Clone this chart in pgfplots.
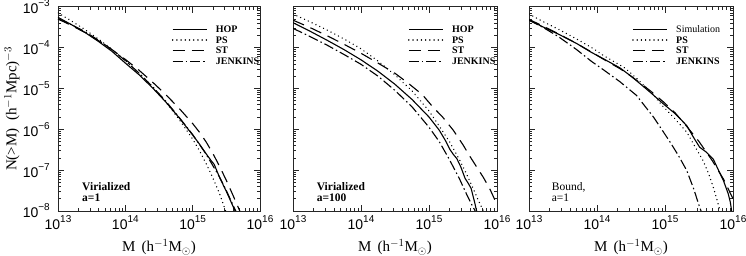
\documentclass[border=0pt]{standalone}
\usepackage{fontspec}
\setmainfont{Liberation Serif}
\newfontfamily\tickfont{Liberation Sans}
\usepackage{pgfplots}
\pgfplotsset{compat=1.18}

% tick label: 10 with a raised exponent, set in the sans font
\newcommand{\dec}[1]{{\tickfont\fontsize{14}{14}\selectfont 10\raisebox{7pt}{\fontsize{10}{10}\selectfont #1}}}
% legend entry text
\newcommand{\legtext}[1]{{\fontsize{10}{10}\selectfont #1}}

\pgfplotsset{
  legend image code/.code={\draw[#1] (0pt,0pt) -- (34pt,0pt);},
  hop/.style={black, line width=1.1pt, solid},
  ps/.style={black, line width=1.5pt, line cap=round, dash pattern=on 0.01pt off 4.2pt},
  st/.style={black, line width=1.1pt, dash pattern=on 12pt off 7pt},
  jk/.style={black, line width=1.1pt, dash pattern=on 10pt off 3pt on 1.5pt off 3pt},
  massfn/.style={
    scale only axis, height=204.3pt,
    xmin=13, xmax=16, ymin=-8, ymax=-3,
    xtick={13,14,15,16}, ytick={-8,-7,-6,-5,-4,-3},
    minor xtick={13.301,13.477,13.602,13.699,13.778,13.845,13.903,13.954,
                 14.301,14.477,14.602,14.699,14.778,14.845,14.903,14.954,
                 15.301,15.477,15.602,15.699,15.778,15.845,15.903,15.954},
    minor ytick={-7.699,-7.523,-7.398,-7.301,-7.222,-7.155,-7.097,-7.046,
                 -6.699,-6.523,-6.398,-6.301,-6.222,-6.155,-6.097,-6.046,
                 -5.699,-5.523,-5.398,-5.301,-5.222,-5.155,-5.097,-5.046,
                 -4.699,-4.523,-4.398,-4.301,-4.222,-4.155,-4.097,-4.046,
                 -3.699,-3.523,-3.398,-3.301,-3.222,-3.155,-3.097,-3.046},
    tick align=inside,
    major tick length=6pt, minor tick length=3pt,
    every tick/.style={black!85, line width=0.6pt},
    axis line style={black!85, line width=0.8pt},
    xticklabels={\dec{13},\dec{14},\dec{15},\dec{16}},
    xticklabel style={anchor=base, inner sep=0pt, yshift=-19pt},
    xlabel={M\, (h$^{-1}$M$_\odot$)},
    xlabel style={font=\fontsize{15}{18}\selectfont, at={(axis description cs:0.5,0)}, anchor=base, yshift=-41pt},
    legend cell align=left,
    legend style={draw=none, fill=none, at={(0.563,0.911)}, anchor=north west,
      inner sep=0pt, row sep=1.6pt,
      nodes={inner sep=0.5pt, text height=7pt, text depth=1pt},
      /tikz/every odd column/.append style={column sep=8pt}},
  }
}

\begin{document}
\begin{tikzpicture}
\path[use as bounding box] (0,0) rectangle (746pt,256pt);

% ---------------- Virialized, a=1 ----------------
\begin{axis}[massfn, width=202pt, at={(58pt,45pt)}, anchor=south west,
  yticklabels={\dec{−8},\dec{−7},\dec{−6},\dec{−5},\dec{−4},\dec{−3}},
  yticklabel style={anchor=east, inner sep=0pt, xshift=-8pt},
  ylabel={N(>M)\ \ (h$^{-1}$Mpc)$^{-3}$},
  ylabel style={font=\fontsize{15}{18}\selectfont, at={(axis description cs:-0.228,0.5)}, anchor=center}]
\addplot[hop] coordinates {(13.00,-3.26)(13.20,-3.44)(13.40,-3.63)(13.60,-3.85)(13.80,-4.09)(14.00,-4.38)(14.20,-4.66)(14.40,-4.98)(14.60,-5.33)(14.80,-5.72)(15.00,-6.14)(15.10,-6.36)(15.20,-6.60)(15.28,-6.78)(15.32,-6.86)(15.40,-7.18)(15.50,-7.52)(15.56,-7.74)(15.63,-8.00)};
\addlegendentry{\legtext{\textbf{HOP}}}
\addplot[ps] coordinates {(13.00,-3.15)(13.20,-3.35)(13.40,-3.56)(13.60,-3.79)(13.80,-4.04)(14.00,-4.32)(14.20,-4.62)(14.40,-4.95)(14.60,-5.33)(14.80,-5.76)(15.00,-6.24)(15.10,-6.52)(15.20,-6.84)(15.30,-7.19)(15.40,-7.58)(15.49,-8.00)};
\addlegendentry{\legtext{\textbf{PS}}}
\addplot[st] coordinates {(13.00,-3.30)(13.20,-3.46)(13.40,-3.63)(13.60,-3.83)(13.80,-4.05)(14.00,-4.29)(14.20,-4.55)(14.40,-4.84)(14.60,-5.15)(14.80,-5.49)(15.00,-5.86)(15.10,-6.07)(15.20,-6.31)(15.30,-6.59)(15.40,-6.91)(15.50,-7.25)(15.60,-7.62)(15.70,-8.00)};
\addlegendentry{\legtext{\textbf{ST}}}
\addplot[jk] coordinates {(13.00,-3.30)(13.20,-3.44)(13.40,-3.61)(13.60,-3.82)(13.80,-4.05)(14.00,-4.32)(14.20,-4.62)(14.40,-4.95)(14.60,-5.31)(14.80,-5.71)(15.00,-6.13)(15.20,-6.61)(15.40,-7.17)(15.50,-7.50)(15.60,-7.86)(15.64,-8.00)};
\addlegendentry{\legtext{\textbf{JENKINS}}}
\node[anchor=west, inner sep=0pt, font=\fontsize{11.5}{13}\selectfont\bfseries] at (axis description cs:0.119,0.117) {Virialized};
\node[anchor=west, inner sep=0pt, font=\fontsize{11.5}{13}\selectfont\bfseries] at (axis description cs:0.119,0.063) {a=1};
\end{axis}

% ---------------- Virialized, a=100 ----------------
\begin{axis}[massfn, width=204pt, at={(293pt,45pt)}, anchor=south west, yticklabels={}]
\addplot[hop] coordinates {(13.00,-3.39)(13.25,-3.60)(13.50,-3.82)(13.75,-4.05)(14.00,-4.30)(14.25,-4.58)(14.50,-4.90)(14.75,-5.27)(15.00,-5.70)(15.15,-6.02)(15.25,-6.30)(15.31,-6.50)(15.36,-6.62)(15.41,-6.72)(15.47,-6.93)(15.53,-7.20)(15.58,-7.33)(15.62,-7.45)(15.67,-7.78)(15.70,-8.00)};
\addlegendentry{\legtext{\textbf{HOP}}}
\addplot[ps] coordinates {(13.00,-3.18)(13.25,-3.37)(13.50,-3.57)(13.75,-3.79)(14.00,-4.03)(14.25,-4.33)(14.50,-4.67)(14.75,-5.06)(15.00,-5.55)(15.15,-5.92)(15.30,-6.30)(15.45,-6.75)(15.55,-7.09)(15.65,-7.45)(15.72,-7.72)(15.80,-8.00)};
\addlegendentry{\legtext{\textbf{PS}}}
\addplot[st] coordinates {(13.00,-3.33)(13.25,-3.51)(13.50,-3.71)(13.75,-3.92)(14.00,-4.14)(14.25,-4.38)(14.50,-4.63)(14.70,-4.88)(14.90,-5.15)(15.06,-5.46)(15.20,-5.70)(15.36,-6.03)(15.50,-6.38)(15.60,-6.66)(15.70,-6.92)(15.80,-7.18)(15.90,-7.48)(15.95,-7.66)(16.00,-7.85)};
\addlegendentry{\legtext{\textbf{ST}}}
\addplot[jk] coordinates {(13.00,-3.53)(13.25,-3.73)(13.50,-3.94)(13.75,-4.17)(14.00,-4.41)(14.25,-4.70)(14.50,-5.05)(14.75,-5.45)(15.00,-5.95)(15.15,-6.30)(15.30,-6.74)(15.45,-7.22)(15.55,-7.58)(15.63,-7.85)(15.68,-8.00)};
\addlegendentry{\legtext{\textbf{JENKINS}}}
\node[anchor=west, inner sep=0pt, font=\fontsize{11.5}{13}\selectfont\bfseries] at (axis description cs:0.116,0.117) {Virialized};
\node[anchor=west, inner sep=0pt, font=\fontsize{11.5}{13}\selectfont\bfseries] at (axis description cs:0.116,0.063) {a=100};
\end{axis}

% ---------------- Bound, a=1 ----------------
\begin{axis}[massfn, width=204pt, at={(529pt,45pt)}, anchor=south west, yticklabels={},
  legend style={at={(0.505,0.911)}}]
\addplot[hop] coordinates {(13.00,-3.33)(13.20,-3.49)(13.43,-3.67)(13.70,-3.90)(13.92,-4.12)(14.10,-4.28)(14.34,-4.50)(14.50,-4.70)(14.63,-4.88)(14.80,-5.12)(14.97,-5.37)(15.15,-5.62)(15.32,-5.91)(15.42,-6.20)(15.51,-6.44)(15.60,-6.55)(15.71,-6.73)(15.80,-7.05)(15.86,-7.26)(15.93,-7.58)(15.96,-7.78)(15.98,-8.00)};
\addlegendentry{\legtext{Simulation}}
\addplot[ps] coordinates {(13.00,-3.18)(13.20,-3.36)(13.43,-3.55)(13.70,-3.79)(13.92,-4.00)(14.10,-4.20)(14.41,-4.50)(14.60,-4.78)(14.80,-5.10)(14.97,-5.44)(15.15,-5.75)(15.32,-6.07)(15.45,-6.45)(15.56,-6.77)(15.64,-7.08)(15.71,-7.42)(15.76,-7.70)(15.81,-8.00)};
\addlegendentry{\legtext{\textbf{PS}}}
\addplot[st] coordinates {(13.00,-3.31)(13.20,-3.47)(13.43,-3.66)(13.70,-3.90)(13.92,-4.11)(14.10,-4.29)(14.34,-4.52)(14.50,-4.70)(14.63,-4.86)(14.80,-5.08)(14.97,-5.32)(15.15,-5.60)(15.32,-5.93)(15.50,-6.30)(15.70,-6.78)(15.86,-7.22)(16.00,-7.70)};
\addlegendentry{\legtext{\textbf{ST}}}
\addplot[jk] coordinates {(13.00,-3.33)(13.20,-3.50)(13.43,-3.73)(13.70,-4.05)(13.92,-4.34)(14.10,-4.55)(14.34,-4.84)(14.58,-5.17)(14.83,-5.70)(15.07,-6.30)(15.20,-6.65)(15.32,-7.01)(15.42,-7.45)(15.51,-7.91)(15.53,-8.00)};
\addlegendentry{\legtext{\textbf{JENKINS}}}
\node[anchor=west, inner sep=0pt, font=\fontsize{11.5}{13}\selectfont] at (axis description cs:0.111,0.117) {Bound,};
\node[anchor=west, inner sep=0pt, font=\fontsize{11.5}{13}\selectfont] at (axis description cs:0.111,0.063) {a=1};
\end{axis}
\end{tikzpicture}
\end{document}
